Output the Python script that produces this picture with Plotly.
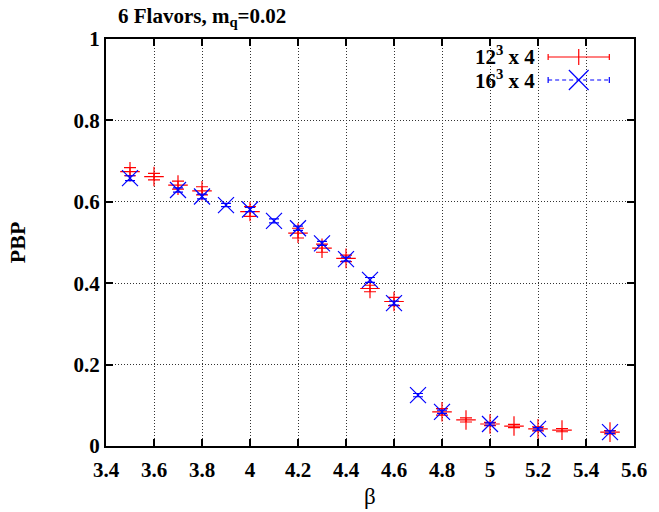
import plotly.graph_objects as go

# 12^3 x 4 lattice
beta_12 = [3.5, 3.6, 3.7, 3.8, 4.0, 4.2, 4.3, 4.4, 4.5, 4.6, 4.8, 4.9, 5.0, 5.1, 5.2, 5.3, 5.5]
pbp_12 = [0.674, 0.662, 0.641, 0.627, 0.576, 0.523, 0.486, 0.461, 0.387, 0.355,
          0.084, 0.064, 0.054, 0.049, 0.042, 0.039, 0.034]
err_12 = [0.010, 0.008, 0.010, 0.010, 0.012, 0.012, 0.010, 0.008, 0.008, 0.010,
          0.008, 0.005, 0.004, 0.004, 0.005, 0.004, 0.004]

# 16^3 x 4 lattice
beta_16 = [3.5, 3.7, 3.8, 3.9, 4.0, 4.1, 4.2, 4.3, 4.4, 4.5, 4.6, 4.7, 4.8, 5.0, 5.2, 5.5]
pbp_16 = [0.658, 0.629, 0.613, 0.592, 0.581, 0.553, 0.535, 0.498, 0.459, 0.408,
          0.351, 0.125, 0.084, 0.054, 0.042, 0.034]
err_16 = [0.006, 0.005, 0.006, 0.004, 0.005, 0.005, 0.005, 0.005, 0.005, 0.006,
          0.005, 0.004, 0.004, 0.003, 0.003, 0.003]

x_ticks = [3.4, 3.6, 3.8, 4.0, 4.2, 4.4, 4.6, 4.8, 5.0, 5.2, 5.4, 5.6]
y_ticks = [0, 0.2, 0.4, 0.6, 0.8, 1.0]

RED = "#ff0000"
BLUE = "#0000ff"
FONT = "Liberation Serif"

W, H = 659, 512
L, R, T, B = 106, 18, 39, 66
PW, PH = W - L - R, H - T - B


def px(xp):
    return (xp - L) / PW


def py(yp):
    return (H - B - yp) / PH


fig = go.Figure()
fig.add_trace(go.Scatter(
    x=beta_12, y=pbp_12, mode="markers", name="12^3 x 4",
    marker=dict(symbol="cross-thin", size=14, line=dict(color=RED, width=1.2)),
    error_y=dict(type="data", array=err_12, color=RED, thickness=1.2, width=6),
))
fig.add_trace(go.Scatter(
    x=beta_16, y=pbp_16, mode="markers", name="16^3 x 4",
    marker=dict(symbol="x-thin", size=16, line=dict(color=BLUE, width=1.2)),
    error_y=dict(type="data", array=err_16, color=BLUE, thickness=1.2, width=5),
))

axis_common = dict(
    showline=True, linecolor="black", linewidth=2, mirror="ticks",
    ticks="inside", ticklen=7, tickwidth=1.5, tickcolor="black",
    showgrid=True, gridcolor="#333333", griddash="1px,2px", gridwidth=1,
    zeroline=False,
    tickfont=dict(family=FONT, size=21, color="black", weight="bold"),
)

fig.update_xaxes(range=[3.4, 5.6], tickvals=x_ticks, ticklabelstandoff=4,
                 ticktext=[f"{v:g}" for v in x_ticks], **axis_common)
fig.update_yaxes(range=[0, 1], tickvals=y_ticks,
                 ticktext=[f"{v:g}" for v in y_ticks], **axis_common)

shapes = []
# legend keys (drawn in paper space, key sample to the right of its label)
key_x0, key_x1, key_xc = px(554), px(616), px(585)
rows = [(57, RED, "solid", "plus"), (80, BLUE, "4px,3px", "x")]
for yp, col, dash, sym in rows:
    y = py(yp)
    shapes.append(dict(type="line", xref="paper", yref="paper", x0=key_x0, x1=key_x1,
                       y0=y, y1=y, line=dict(color=col, width=1.2, dash=dash)))
    for xe in (key_x0, key_x1):
        shapes.append(dict(type="line", xref="paper", yref="paper", x0=xe, x1=xe,
                           y0=py(yp - 3), y1=py(yp + 3), line=dict(color=col, width=1.2)))
    if sym == "plus":
        shapes.append(dict(type="line", xref="paper", yref="paper", x0=key_xc, x1=key_xc,
                           y0=py(yp - 8), y1=py(yp + 8), line=dict(color=col, width=1.2)))
    else:
        shapes.append(dict(type="line", xref="paper", yref="paper", x0=px(575), x1=px(595),
                           y0=py(yp - 10), y1=py(yp + 10), line=dict(color=col, width=1.2)))
        shapes.append(dict(type="line", xref="paper", yref="paper", x0=px(575), x1=px(595),
                           y0=py(yp + 10), y1=py(yp - 10), line=dict(color=col, width=1.2)))

annotations = [
    dict(text="<b>6 Flavors, m<sub>q</sub>=0.02</b>", xref="paper", yref="paper",
         x=px(203), y=py(17), xanchor="center", yanchor="middle", showarrow=False,
         font=dict(family=FONT, size=21, color="black")),
    dict(text="<b>PBP</b>", xref="paper", yref="paper", x=px(17), y=py(242),
         xanchor="center", yanchor="middle", textangle=-90, showarrow=False,
         font=dict(family=FONT, size=22, color="black")),
    dict(text="β", xref="paper", yref="paper", x=px(374), y=py(496),
         xanchor="center", yanchor="middle", showarrow=False,
         font=dict(family=FONT, size=23, color="black")),
    dict(text="<b>12<sup>3</sup> x 4</b>", xref="paper", yref="paper", x=px(543), y=py(56),
         xanchor="right", yanchor="middle", showarrow=False,
         font=dict(family=FONT, size=21, color="black")),
    dict(text="<b>16<sup>3</sup> x 4</b>", xref="paper", yref="paper", x=px(543), y=py(79),
         xanchor="right", yanchor="middle", showarrow=False,
         font=dict(family=FONT, size=21, color="black")),
]

fig.update_layout(
    width=W, height=H,
    margin=dict(l=L, r=R, t=T, b=B),
    paper_bgcolor="white", plot_bgcolor="white",
    showlegend=False,
    shapes=shapes, annotations=annotations,
)

fig.write_html("out.html")
